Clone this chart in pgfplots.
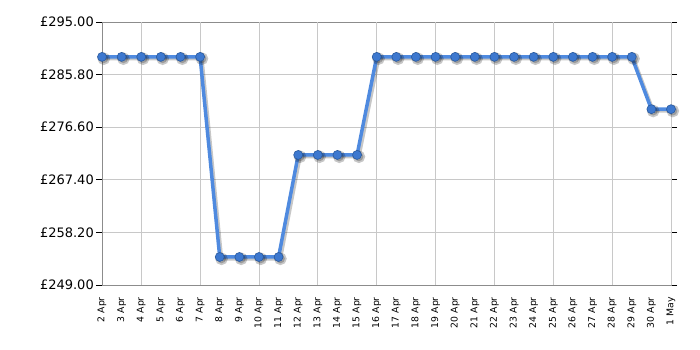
\documentclass[border=0pt]{standalone}
\usepackage{pgfplots}
\usepackage{pgfplotstable}
\pgfplotsset{compat=1.18}
\usepackage{fontspec}
\setmainfont{DejaVu Sans}
\definecolor{lineblue}{HTML}{4F8ADF}
\definecolor{markfill}{HTML}{3D78CF}
\definecolor{markdraw}{HTML}{2A5A9E}
\definecolor{gridgray}{HTML}{C8C8C8}
\definecolor{axgray}{HTML}{8C8C8C}
\pgfplotstableread{
x y
0 288.9
1 288.9
2 288.9
3 288.9
4 288.9
5 288.9
6 253.9
7 253.9
8 253.9
9 253.9
10 271.75
11 271.75
12 271.75
13 271.75
14 288.9
15 288.9
16 288.9
17 288.9
18 288.9
19 288.9
20 288.9
21 288.9
22 288.9
23 288.9
24 288.9
25 288.9
26 288.9
27 288.9
28 279.75
29 279.75
}\data
\begin{document}
\begin{tikzpicture}[x=1pt,y=1pt]
\useasboundingbox (0,0) rectangle (700,350);
\begin{axis}[
  at={(102pt,65pt)}, anchor=south west,
  scale only axis, width=569pt, height=263pt,
  xmin=0, xmax=29, ymin=249, ymax=295,
  axis line style={axgray, line width=0.9pt},
  xtick={0,...,29},
  xticklabels={2 Apr,3 Apr,4 Apr,5 Apr,6 Apr,7 Apr,8 Apr,9 Apr,10 Apr,11 Apr,12 Apr,13 Apr,14 Apr,15 Apr,16 Apr,17 Apr,18 Apr,19 Apr,20 Apr,21 Apr,22 Apr,23 Apr,24 Apr,25 Apr,26 Apr,27 Apr,28 Apr,29 Apr,30 Apr,1 May},
  major x tick style={draw=none},
  xticklabel style={yshift=-5pt, rotate=90, anchor=east, font=\fontsize{9.3}{10}\selectfont, inner sep=1pt},
  extra x ticks={2,5,8,11,14,17,20,23,26,29},
  extra x tick labels={},
  extra x tick style={grid=major, major grid style={gridgray, line width=0.7pt}, tick style={draw=black, line width=0.8pt}, major tick length=5pt, tick align=outside},
  ytick={249,258.2,267.4,276.6,285.8,295},
  ymajorgrids, major grid style={gridgray, line width=0.7pt},
  ytick style={draw=black, line width=0.8pt}, tick align=outside, major tick length=6pt,
  yticklabel={£\pgfmathprintnumber[fixed, fixed zerofill, precision=2]{\tick}},
  yticklabel style={font=\fontsize{13}{15}\selectfont, inner sep=2pt},
  /pgf/number format/assume math mode=true,
  clip=false,
]
\addplot[black, opacity=0.22, line width=3.5pt, xshift=1.8pt, yshift=-1.8pt, mark=*, mark size=4.5pt, mark options={draw=none, fill=black}] table[x=x, y=y] {\data};
\addplot[lineblue, line width=3.5pt, mark=*, mark size=4.5pt, mark options={fill=markfill, draw=markdraw, line width=0.6pt}] table[x=x, y=y] {\data};
\end{axis}
\end{tikzpicture}
\end{document}
